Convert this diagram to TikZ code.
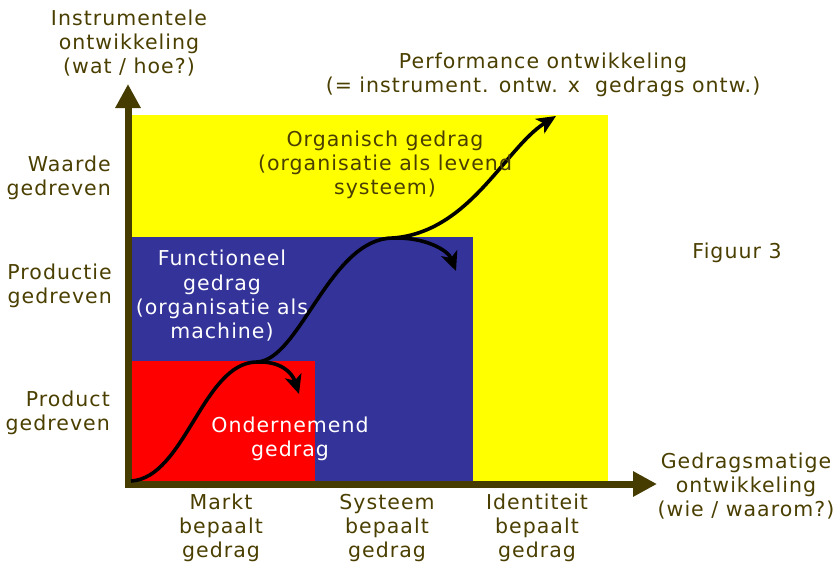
\documentclass[tikz,border=0pt]{standalone}
\usepackage{fontspec}
\setmainfont{DejaVu Sans}[LetterSpace=5.0]
\usetikzlibrary{arrows.meta}
\definecolor{olive}{RGB}{74,63,0}
\definecolor{axiscol}{RGB}{70,60,0}
\definecolor{blu}{RGB}{51,51,153}
\definecolor{yel}{RGB}{255,255,0}
\definecolor{rd}{RGB}{255,0,0}
\tikzset{
  lbl/.style={inner sep=0pt, align=center, text=olive, font=\fontsize{20.5}{24.3}\selectfont},
  wlbl/.style={lbl, text=white},
  rlbl/.style={lbl, align=right, anchor=east},
  axisline/.style={draw=axiscol, line width=7pt, -{Triangle[length=24pt,width=24pt]}},
  curve/.style={draw=black, line width=3.6pt, -{Stealth[length=19pt,width=17pt,inset=5pt]}},
  curvenotip/.style={draw=black, line width=3.6pt},
}
\begin{document}
\begin{tikzpicture}[x=1pt,y=-1pt]
\useasboundingbox (0,0) rectangle (838,566);
% regions
\fill[yel] (131,115) rectangle (608,481);
\fill[blu] (131,237) rectangle (473,481);
\fill[rd] (131,361) rectangle (315,481);
% axes
\coordinate (Ytip) at (128,84);
\coordinate (Xtip) at (657,484);
\coordinate (Ostart) at (124.5,484);
\coordinate (Ostarty) at (128,487.5);
\draw[axisline] (Ostarty) -- (Ytip);
\draw[axisline] (Ostart) -- (Xtip);
% curve
\coordinate (c0) at (131,481);
\coordinate (c1) at (257,362);
\coordinate (c2) at (393,238);
\coordinate (c3) at (556,116);
\coordinate (b1) at (299,394);
\coordinate (b2) at (456,271);
\draw[curvenotip] (c0) .. controls (185,478) and (203,362) .. (c1)
  .. controls (300,360) and (330,238) .. (c2);
\draw[curve] (c2) .. controls (470,232) and (505,148) .. (c3);
\draw[curve] (c1) .. controls (280,361) and (292,372) .. (b1);
\draw[curve] (c2) .. controls (425,237) and (448,250) .. (b2);
% labels
\node[lbl] (yax) at (129,43) {Instrumentele\\ontwikkeling\\(wat / hoe?)};
\node[lbl] (perf) at (543,75) {Performance ontwikkeling\\(= instrument. ontw. x\ \ gedrags ontw.)};
\node[lbl] (org) at (385,165) {Organisch gedrag\\(organisatie als levend\\systeem)};
\node[wlbl] (func) at (222,296) {Functioneel\\gedrag\\(organisatie als\\machine)};
\node[wlbl] (ond) at (290,439) {Ondernemend\\gedrag};
\node[lbl] (fig) at (737,253) {Figuur 3};
\node[rlbl] (wg) at (111,178) {Waarde\\gedreven};
\node[rlbl] (pg) at (112,286) {Productie\\gedreven};
\node[rlbl] (prg) at (110,413) {Product\\gedreven};
\node[lbl] (mk) at (221,528) {Markt\\bepaalt\\gedrag};
\node[lbl] (sy) at (387,528) {Systeem\\bepaalt\\gedrag};
\node[lbl] (id) at (537,528) {Identiteit\\bepaalt\\gedrag};
\node[lbl] (xax) at (746,486) {Gedragsmatige\\ontwikkeling\\(wie / waarom?)};
\end{tikzpicture}
\end{document}
